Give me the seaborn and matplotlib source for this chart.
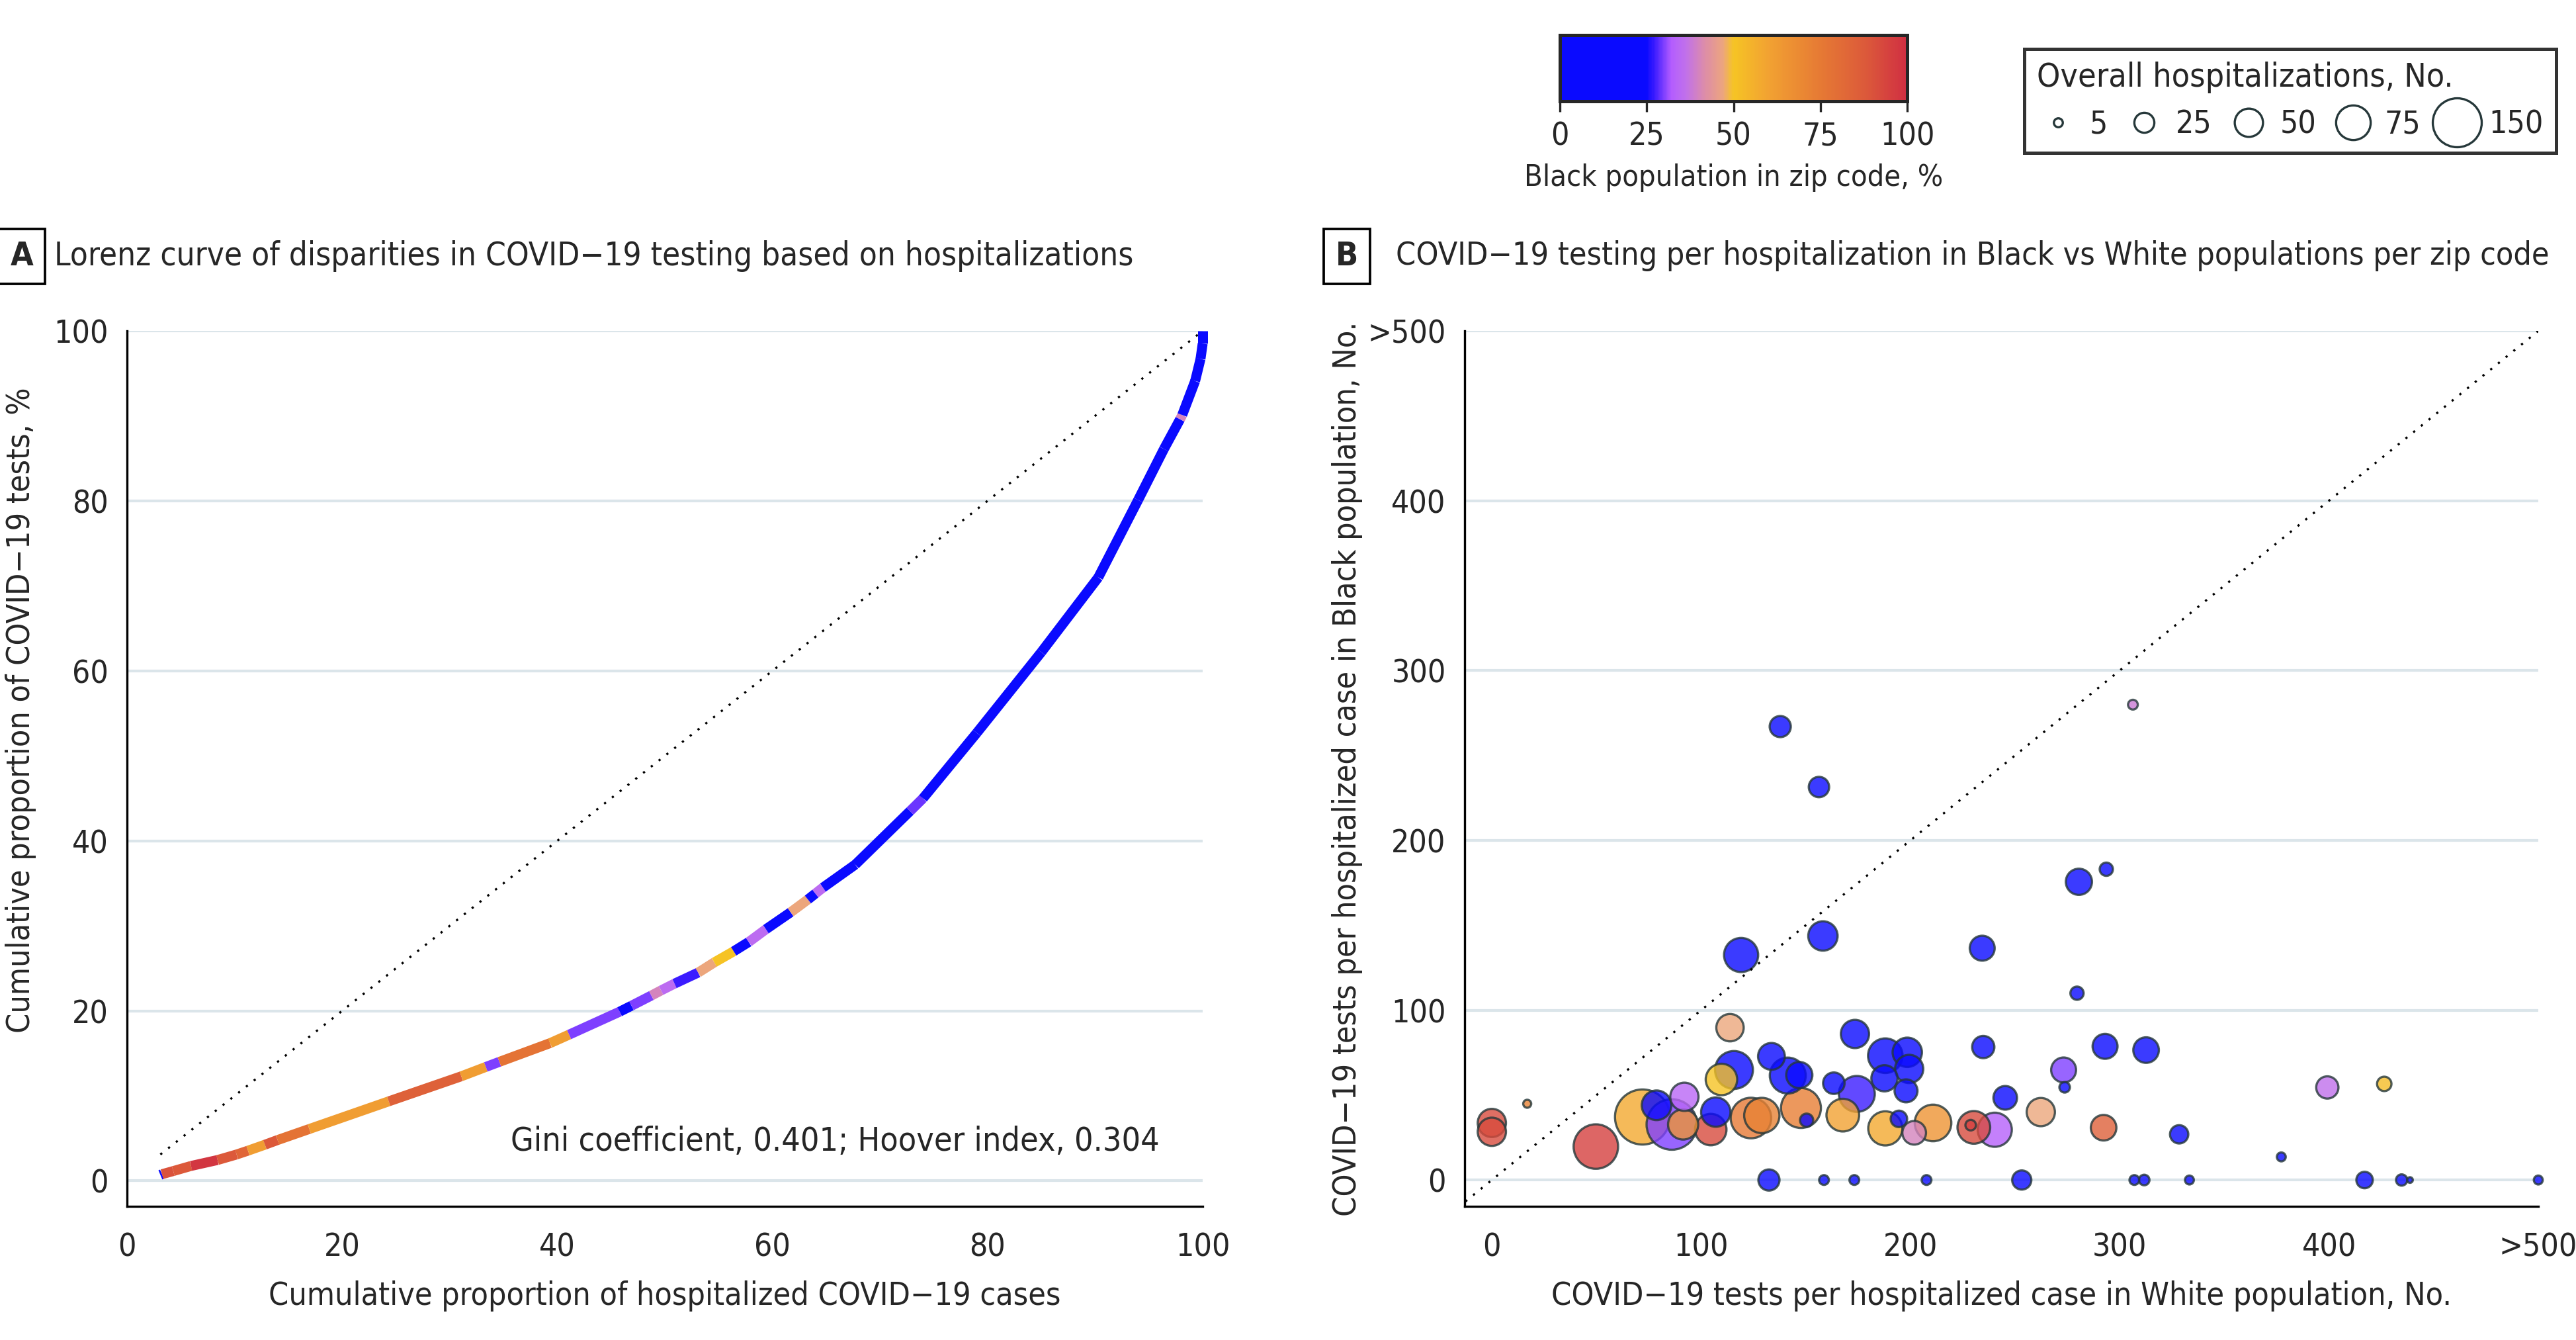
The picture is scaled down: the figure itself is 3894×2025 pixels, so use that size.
import numpy as np
import pandas as pd
import matplotlib
matplotlib.use("Agg")
import matplotlib.pyplot as plt
import seaborn as sns
from matplotlib.collections import LineCollection
from matplotlib.colors import LinearSegmentedColormap, Normalize
from matplotlib.cm import ScalarMappable
from matplotlib.lines import Line2D

# ---- Panel A: Lorenz curve vertices (cumulative %) and Black % per segment ----
lorenz_x = [3.10, 3.25, 4.30, 5.95, 8.42, 10.19, 11.25, 12.82, 14.00, 16.95,
            24.33, 31.08, 33.36, 34.62, 39.33, 41.10, 45.80, 46.90, 48.75, 49.65,
            50.90, 53.10, 54.60, 56.40, 57.80, 59.40, 61.70, 63.30, 64.00, 64.70,
            67.70, 72.80, 74.00, 79.00, 85.00, 90.30, 94.00, 96.40, 97.90, 98.10,
            99.30, 99.80, 100.0, 100.0]
lorenz_y = [0.70, 0.78, 1.15, 1.75, 2.45, 3.10, 3.55, 4.25, 4.80, 6.10,
            9.35, 12.30, 13.40, 14.00, 16.20, 17.20, 19.90, 20.60, 21.80, 22.40,
            23.20, 24.50, 25.70, 27.00, 28.10, 29.60, 31.60, 33.10, 33.80, 34.50,
            37.20, 43.50, 45.00, 52.70, 62.20, 71.00, 80.10, 86.10, 89.60, 90.10,
            94.10, 96.70, 98.50, 100.0]
segment_black_pct = [10, 90, 88, 98, 88, 83, 62, 88, 78, 62,
                     85, 62, 30, 78, 62, 30, 15, 30, 40, 35,
                     27, 47, 50, 15, 35, 15, 47, 15, 35, 15,
                     15, 29, 15, 15, 15, 15, 15, 15, 40, 15,
                     15, 15, 15]

# ---- Panel B: tests per hospitalized case per zip code ----
tests_white = [0, 0, 16.9, 49.7, 72, 78.7, 86, 92, 91.4, 104.6,
               107, 109.7, 115.7, 113.8, 123.8, 129, 133.6, 141.4, 146.9, 147.7,
               150.4, 163.4, 174.4, 173.5, 167.7, 188, 198.5, 199.4, 187.6, 197.9,
               188, 194.5, 201.8, 210.8, 234.8, 230.3, 228.8, 240.3, 245.3, 262.3,
               132.4, 158.7, 173.2, 207.7, 253.2, 279.6, 293, 312.6, 273.2, 273.7,
               292.3, 328.4, 377.2, 399.2, 426.4, 307, 311.7, 333.3, 417, 434.7,
               438.7, 500, 137.8, 156.3, 280.5, 293.6, 119.1, 158.2, 234.3, 306.3]
tests_black = [33.6, 28.4, 44.9, 19.7, 37.1, 44, 32.7, 49, 32.7, 29.7,
               40, 59.2, 64.8, 89.7, 36.5, 38, 72.8, 61.5, 61.8, 42.4,
               35.2, 57, 50.7, 86, 38.2, 73.2, 75.2, 65.4, 59.9, 52.5,
               30.4, 36, 27.8, 33.6, 78.3, 31, 32.3, 29.6, 48.4, 40,
               0, 0, 0, 0, 0, 110, 78.7, 76.5, 64.8, 54.6,
               30.8, 26.9, 13.6, 54.5, 56.6, 0, 0, 0, 0, 0,
               0, 0, 267, 231.4, 175.6, 183, 132.5, 143.7, 136.5, 279.9]
hospitalizations = [50, 50, 4, 124, 190, 55, 160, 50, 57, 62,
                    54, 62, 90, 47, 103, 78, 45, 81, 43, 100,
                    11, 29, 81, 50, 67, 75, 54, 50, 43, 33,
                    73, 17, 35, 84, 31, 67, 7, 73, 35, 50,
                    28, 6, 6, 6, 23, 11, 39, 41, 39, 7,
                    41, 21, 5, 31, 13, 6, 7, 5, 17, 8,
                    2, 5, 28, 26, 43, 11, 73, 54, 39, 6]
black_pct = [92, 92, 72, 95, 58, 15, 30, 34, 65, 92,
             15, 50, 15, 47, 75, 72, 15, 15, 10, 73,
             12, 15, 27, 15, 60, 15, 15, 15, 15, 15,
             58, 15, 40, 65, 15, 92, 95, 33, 15, 47,
             15, 10, 15, 15, 15, 15, 15, 15, 30, 15,
             85, 15, 15, 36, 52, 15, 15, 15, 15, 15,
             15, 10, 15, 15, 15, 15, 15, 15, 15, 38]

legend_sizes = [5, 25, 50, 75, 150]
tick_b = [0, 100, 200, 300, 400, 500]
tick_b_labels = ["0", "100", "200", "300", "400", ">500"]

# colour scale used for Black population %
cmap = LinearSegmentedColormap.from_list("black_pct", [
    (0.00, "#0a0aff"), (0.25, "#0a0aff"), (0.27, "#3a1aff"), (0.32, "#b35cff"),
    (0.36, "#c070ec"), (0.42, "#de8ea6"), (0.47, "#eca57e"), (0.50, "#f6c424"),
    (0.60, "#f2a232"), (0.75, "#e67a34"), (0.88, "#dc5a3a"), (1.00, "#d02f42")])
norm = Normalize(0, 100)

sns.set_style("white")
# condensed face if the system has it, plain DejaVu otherwise
plt.rcParams['font.family'] = ['DejaVu Sans Condensed', 'DejaVu Sans']
plt.rcParams['font.stretch'] = 'condensed'
plt.rcParams['axes.unicode_minus'] = True

fig = plt.figure(figsize=(12.98, 6.75), dpi=300)
grid_color = "#dbe5ea"
FS = 11.6

def style_axes(ax):
    for s in ["top", "right"]:
        ax.spines[s].set_visible(False)
    for s in ["left", "bottom"]:
        ax.spines[s].set_color("black")
        ax.spines[s].set_linewidth(0.8)
    ax.tick_params(axis="both", direction="out", length=3.8, width=0.8,
                   color="black", labelsize=11.5)
    ax.tick_params(axis="x", pad=5.5)
    ax.tick_params(axis="y", pad=3)
    ax.yaxis.grid(True, color=grid_color, linewidth=1.0)
    ax.xaxis.grid(False)
    ax.set_axisbelow(True)

# ---------- Panel A ----------
axA = fig.add_axes([192 / 3894, 1 - 1823 / 2025, 1626 / 3894, 1323 / 2025])
axA.set_xlim(0, 100)
axA.set_ylim(-3, 100)
style_axes(axA)
axA.set_xticks(range(0, 101, 20))
axA.set_yticks(range(0, 101, 20))

axA.plot([lorenz_x[0], 100], [lorenz_x[0], 100], color="black",
         linestyle=(0, (1, 3.5)), linewidth=0.8)
pts = np.column_stack([lorenz_x, lorenz_y])
segs = np.stack([pts[:-1], pts[1:]], axis=1)
lc = LineCollection(segs, cmap=cmap, norm=norm, linewidths=3.6, capstyle="butt",
                    clip_on=False)
lc.set_array(np.array(segment_black_pct, dtype=float))
axA.add_collection(lc)
axA.text(96, 4.6, "Gini coefficient, 0.401; Hoover index, 0.304",
         ha="right", va="center", fontsize=12)
axA.set_xlabel("Cumulative proportion of hospitalized COVID\u221219 cases", fontsize=FS)
axA.set_ylabel("Cumulative proportion of COVID\u221219 tests, %", fontsize=FS)
axA.xaxis.set_label_coords(0.5, -0.085)
axA.yaxis.set_label_coords(-0.084, 0.567)

# ---------- Panel B ----------
axB = fig.add_axes([2214 / 3894, 1 - 1823 / 2025, 1623 / 3894, 1323 / 2025])
df = pd.DataFrame({"white": tests_white, "black": tests_black,
                   "hosp": hospitalizations, "pct": black_pct})
df = df.sort_values("hosp", ascending=False)
axB.plot([-20, 500], [-20, 500], color="black", linestyle=(0, (1, 3.5)), linewidth=0.8)
sns.scatterplot(data=df, x="white", y="black", hue="pct", size="hosp",
                palette=cmap, hue_norm=norm, sizes=(0, 420), size_norm=(0, 200),
                alpha=0.8, edgecolor="#26383a", linewidth=0.8, legend=False,
                clip_on=False, ax=axB)
axB.set_xlim(-13, 500)
axB.set_ylim(-15.5, 500)
style_axes(axB)
axB.set_xticks(tick_b)
axB.set_xticklabels(tick_b_labels)
axB.set_yticks(tick_b)
axB.set_yticklabels(tick_b_labels)
axB.set_xlabel("COVID\u221219 tests per hospitalized case in White population, No.", fontsize=FS)
axB.set_ylabel("COVID\u221219 tests per hospitalized case in Black population, No.", fontsize=FS)
axB.xaxis.set_label_coords(0.5, -0.085)
axB.yaxis.set_label_coords(-0.095, 0.5)

# ---------- panel titles ----------
box = dict(boxstyle="square,pad=0.35", facecolor="white", edgecolor="black", linewidth=0.9)
fig.text(33 / 3894, 1 - 387 / 2025, "A", ha="center", va="center",
         fontsize=12, fontweight="bold", bbox=box)
fig.text(82 / 3894, 1 - 387 / 2025,
         "Lorenz curve of disparities in COVID\u221219 testing based on hospitalizations",
         ha="left", va="center", fontsize=11.8)
fig.text(2036 / 3894, 1 - 387 / 2025, "B", ha="center", va="center",
         fontsize=12, fontweight="bold", bbox=box)
fig.text(2110 / 3894, 1 - 387 / 2025,
         "COVID\u221219 testing per hospitalization in Black vs White populations per zip code",
         ha="left", va="center", fontsize=11.6)

# ---------- colour bar ----------
cax = fig.add_axes([2358 / 3894, 1 - 153 / 2025, 525 / 3894, 100 / 2025])
cb = fig.colorbar(ScalarMappable(norm=norm, cmap=cmap), cax=cax, orientation="horizontal")
cb.set_ticks([0, 25, 50, 75, 100])
cb.outline.set_linewidth(1.2)
cax.tick_params(direction="out", length=3.8, width=0.8, labelsize=11.5, pad=3.4)
cb.set_label("Black population in zip code, %", fontsize=10.8, labelpad=4)

# ---------- size legend ----------
handles = [Line2D([], [], linestyle="none", marker="o", markersize=np.sqrt(2.1 * n),
                  markerfacecolor="white", markeredgecolor="#26383a",
                  markeredgewidth=0.8) for n in legend_sizes]
leg = fig.legend(handles, [str(n) for n in legend_sizes], ncol=5,
                 title="Overall hospitalizations, No.", loc="center",
                 bbox_to_anchor=(3062 / 3894, 1 - 253 / 2025, 800 / 3894, 201 / 2025),
                 frameon=True, fancybox=False, fontsize=11.5, title_fontsize=12,
                 handletextpad=0.35, columnspacing=0.5, handlelength=1.3,
                 borderaxespad=0, alignment="left")
leg.get_frame().set_edgecolor("black")
leg.get_frame().set_linewidth(1.2)

plt.savefig("out.png", dpi=300)
